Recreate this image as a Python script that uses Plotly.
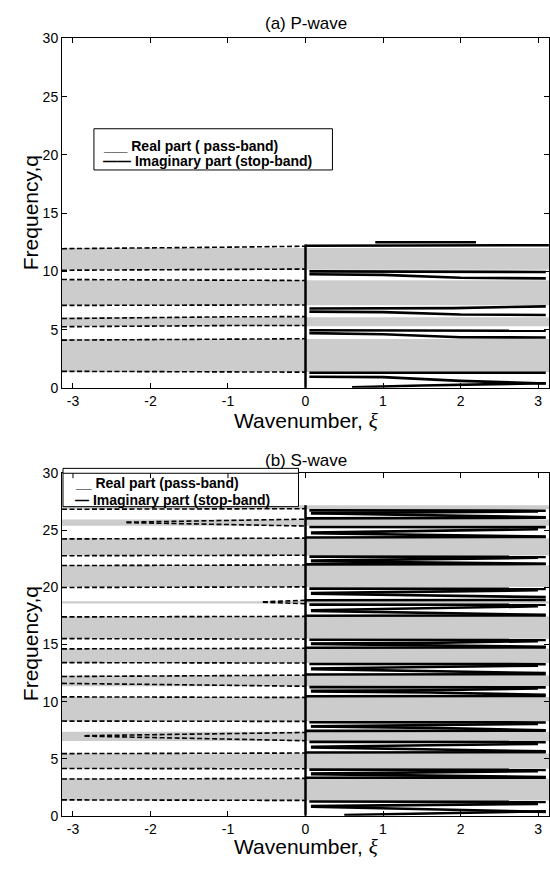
import plotly.graph_objects as go

XI_MIN, XI_MAX = -3.1416, 3.1416
x_tickvals = [-3, -2, -1, 0, 1, 2, 3]
x_ticktext = ["-3", "-2", "-1", "0", "1", "2", "3"]
y_tickvals = [0, 5, 10, 15, 20, 25, 30]

# ---------------- (a) P-wave ----------------
p_band_low = [1.37, 5.30, 7.10, 10.15]
p_band_high = [4.19, 6.07, 9.25, 12.00]
p_dash_xi = [
    [-3.1416, -2.0, -1.0, 0.0], [-3.1416, -2.0, -1.0, 0.0],
    [-3.1416, -2.0, -1.0, 0.0], [-3.1416, -2.0, -1.0, 0.0],
    [-3.1416, -2.0, -1.0, 0.0], [-3.1416, -2.0, -1.0, 0.0],
    [-3.1416, -2.0, -1.0, 0.0], [-3.1416, -2.0, -1.0, 0.0],
]
p_dash_q = [
    [1.42, 1.38, 1.36, 1.35], [4.10, 4.15, 4.20, 4.22],
    [5.25, 5.32, 5.35, 5.35], [5.95, 6.05, 6.10, 6.12],
    [7.08, 7.10, 7.12, 7.12], [9.30, 9.28, 9.25, 9.22],
    [10.10, 10.12, 10.15, 10.20], [11.95, 12.00, 12.08, 12.16],
]
p_solid_xi = [
    [0.05, 3.10], [0.05, 1.0, 2.0, 3.10], [0.6, 1.5, 3.10],
    [0.05, 1.6, 3.10], [0.05, 1.0, 2.0, 3.10],
    [0.05, 1.9, 3.10], [0.05, 1.0, 2.0, 3.10],
    [0.05, 1.6, 3.10], [0.05, 1.0, 2.0, 3.10],
    [0.0, 3.14], [0.9, 2.2],
]
p_solid_q = [
    [1.30, 1.30], [0.95, 0.92, 0.60, 0.38], [0.05, 0.20, 0.40],
    [4.95, 4.92, 4.90], [4.70, 4.60, 4.35, 4.33],
    [6.82, 6.85, 7.00], [6.55, 6.50, 6.30, 6.26],
    [10.00, 9.98, 9.95], [9.75, 9.70, 9.45, 9.40],
    [12.20, 12.25], [12.50, 12.50],
]
p_vline_top = 12.3

# ---------------- (b) S-wave ----------------
s_band_low = [1.35, 4.13, 6.56, 8.28, 11.35, 13.39, 15.50, 18.60, 20.03, 22.80, 25.40, 26.85]
s_band_high = [3.27, 5.47, 7.37, 10.40, 12.30, 14.66, 17.45, 18.80, 21.95, 24.30, 25.95, 27.20]
s_dash_xi = [
    [-3.1416, -2.0, -1.0, 0.0], [-3.1416, -2.0, -1.0, 0.0],
    [-3.1416, -2.0, -1.0, 0.0], [-3.1416, -2.0, -1.0, 0.0],
    [-2.85, -1.5, 0.0], [-2.85, -1.5, 0.0],
    [-3.1416, -2.0, -1.0, 0.0], [-3.1416, -2.0, -1.0, 0.0],
    [-3.1416, -2.0, -1.0, 0.0], [-3.1416, -2.0, -1.0, 0.0],
    [-3.1416, -2.0, -1.0, 0.0], [-3.1416, -2.0, -1.0, 0.0],
    [-3.1416, -2.0, -1.0, 0.0], [-3.1416, -2.0, -1.0, 0.0],
    [-0.55, 0.0], [-0.55, 0.0],
    [-3.1416, -2.0, -1.0, 0.0], [-3.1416, -2.0, -1.0, 0.0],
    [-3.1416, -2.0, -1.0, 0.0], [-3.1416, -2.0, -1.0, 0.0],
    [-2.31, -1.2, 0.0], [-2.31, -1.2, 0.0],
    [-3.1416, -2.0, -1.0, 0.0],
]
s_dash_q = [
    [1.40, 1.38, 1.36, 1.35], [3.22, 3.25, 3.27, 3.28],
    [4.15, 4.14, 4.13, 4.12], [5.45, 5.47, 5.48, 5.50],
    [7.02, 7.15, 7.30], [6.98, 6.80, 6.58],
    [8.30, 8.28, 8.28, 8.27], [10.42, 10.40, 10.38, 10.37],
    [11.60, 11.50, 11.40, 11.35], [12.20, 12.25, 12.30, 12.32],
    [13.42, 13.40, 13.39, 13.38], [14.62, 14.65, 14.66, 14.68],
    [15.52, 15.50, 15.50, 15.48], [17.42, 17.44, 17.45, 17.47],
    [18.74, 18.87], [18.70, 18.58],
    [20.00, 20.02, 20.03, 20.05], [21.92, 21.94, 21.95, 21.97],
    [22.78, 22.80, 22.80, 22.82], [24.25, 24.28, 24.30, 24.32],
    [25.72, 25.85, 25.98], [25.68, 25.55, 25.38],
    [26.85, 26.87, 26.88, 26.90],
]
s_solid_xi = [
    [0.05, 1.6, 3.1], [0.07, 1.6, 3.0], [0.07, 1.6, 3.1], [0.5, 1.6, 3.1],
    [0.05, 1.6, 3.1], [0.07, 1.6, 3.0], [0.07, 1.6, 3.1], [0.0, 1.6, 3.1],
    [0.05, 1.6, 3.1], [0.07, 1.6, 3.0], [0.07, 1.6, 3.1], [0.0, 1.6, 3.1],
    [0.05, 1.6, 3.1], [0.07, 1.6, 3.0], [0.07, 1.6, 3.1], [0.0, 1.6, 3.1],
    [0.05, 1.6, 3.1], [0.07, 1.6, 3.0], [0.07, 1.6, 3.1], [0.0, 1.6, 3.1],
    [0.05, 1.6, 3.1], [0.07, 1.6, 3.0], [0.07, 1.6, 3.1], [0.0, 1.6, 3.1],
    [0.05, 1.6, 3.1], [0.07, 1.6, 3.0], [0.07, 1.6, 3.1], [0.0, 1.6, 3.1],
    [0.05, 1.6, 3.1], [0.07, 1.6, 3.0], [0.07, 1.6, 3.1], [0.0, 1.6, 3.1],
    [0.05, 1.6, 3.1], [0.07, 1.6, 3.0], [0.07, 1.6, 3.1], [0.0, 1.6, 3.1],
    [0.05, 1.6, 3.1], [0.07, 1.6, 3.0], [0.07, 1.6, 3.1], [0.0, 1.6, 3.1],
    [0.05, 1.6, 3.1], [0.07, 1.6, 3.0], [0.07, 1.6, 3.1], [0.0, 1.6, 3.1],
    [0.05, 1.6, 3.1], [0.07, 1.6, 3.0], [0.07, 1.6, 3.1], [0.0, 1.6, 3.1],
]
s_solid_q = [
    [1.25, 1.25, 1.22], [0.85, 0.95, 1.05], [0.80, 0.60, 0.35], [0.08, 0.20, 0.40],
    [4.05, 4.05, 4.03], [3.70, 3.80, 3.92], [3.65, 3.55, 3.40], [3.34, 3.35, 3.35],
    [6.48, 6.48, 6.46], [6.05, 6.15, 6.30], [6.00, 5.85, 5.65], [5.55, 5.56, 5.57],
    [8.20, 8.20, 8.18], [7.85, 7.95, 8.05], [7.82, 7.70, 7.50], [7.44, 7.45, 7.45],
    [11.27, 11.27, 11.25], [10.95, 11.00, 11.15], [10.90, 10.80, 10.60], [10.47, 10.48, 10.50],
    [13.30, 13.30, 13.28], [12.90, 13.00, 13.15], [12.85, 12.70, 12.50], [12.38, 12.40, 12.40],
    [15.42, 15.42, 15.40], [15.08, 15.15, 15.30], [15.05, 14.95, 14.80], [14.72, 14.73, 14.75],
    [18.50, 18.50, 18.48], [18.00, 18.15, 18.35], [17.95, 17.80, 17.60], [17.52, 17.53, 17.55],
    [19.90, 19.90, 19.88], [19.50, 19.60, 19.75], [19.45, 19.30, 19.15], [18.88, 18.90, 18.90],
    [22.70, 22.70, 22.68], [22.35, 22.45, 22.60], [22.30, 22.20, 22.08], [22.02, 22.03, 22.05],
    [25.30, 25.30, 25.28], [24.80, 24.95, 25.10], [24.75, 24.60, 24.45], [24.38, 24.40, 24.42],
    [26.75, 26.75, 26.72], [26.50, 26.60, 26.65], [26.50, 26.35, 26.15], [26.05, 26.07, 26.10],
]
s_vline_top = 27.2

GRAY = "#cccccc"
W, H = 550, 869
ML = 62
PW = W - ML


def py(px):
    return 1 - px / H


def px_x(px):
    return (px - ML) / PW


fig = go.Figure()


def add_panel(xa, ya, lows, highs, dxi, dq, sxi, sq, vtop):
    for lo, hi in zip(lows, highs):
        fig.add_trace(go.Scatter(
            x=[XI_MIN, XI_MAX, XI_MAX, XI_MIN, XI_MIN], y=[lo, lo, hi, hi, lo],
            mode="lines", fill="toself", fillcolor=GRAY, line=dict(width=0),
            hoverinfo="skip", xaxis=xa, yaxis=ya))
    for xs, qs in zip(dxi, dq):
        fig.add_trace(go.Scatter(
            x=xs, y=qs, mode="lines",
            line=dict(color="black", width=1.6, dash="5px,2.5px"),
            hoverinfo="skip", xaxis=xa, yaxis=ya))
    for xs, qs in zip(sxi, sq):
        fig.add_trace(go.Scatter(
            x=xs, y=qs, mode="lines", line=dict(color="black", width=2.6),
            hoverinfo="skip", xaxis=xa, yaxis=ya))
    fig.add_trace(go.Scatter(
        x=[0, 0], y=[0, vtop], mode="lines", line=dict(color="black", width=2.5),
        hoverinfo="skip", xaxis=xa, yaxis=ya))


add_panel("x", "y", p_band_low, p_band_high, p_dash_xi, p_dash_q, p_solid_xi, p_solid_q, p_vline_top)
add_panel("x2", "y2", s_band_low, s_band_high, s_dash_xi, s_dash_q, s_solid_xi, s_solid_q, s_vline_top)

axis_common = dict(showgrid=False, zeroline=False, showline=True, linecolor="black",
                   linewidth=1, mirror="ticks", ticks="inside", ticklen=5,
                   tickcolor="black", tickwidth=1, tickfont=dict(size=14, color="black"))
xcommon = dict(range=[XI_MIN, XI_MAX], tickmode="array", tickvals=x_tickvals,
               ticktext=x_ticktext, **axis_common)
ycommon = dict(range=[0, 30], tickmode="array", tickvals=y_tickvals, **axis_common)

top_dom = [py(387), py(31)]
bot_dom = [py(823), py(474)]

fig.update_layout(
    width=W, height=H, margin=dict(l=ML, r=0, t=0, b=0),
    plot_bgcolor="white", paper_bgcolor="white", showlegend=False,
    font=dict(family="Liberation Sans, Arial, sans-serif", color="black"),
    xaxis=dict(domain=[0, 1], anchor="y", **xcommon),
    yaxis=dict(domain=top_dom, anchor="x", **ycommon),
    xaxis2=dict(domain=[0, 1], anchor="y2", **xcommon),
    yaxis2=dict(domain=bot_dom, anchor="x2", **ycommon),
)

# legend boxes (the lower one pokes above the axes, whose top line and ticks show through)
fig.add_shape(type="rect", xref="paper", yref="paper",
              x0=px_x(94), x1=px_x(333), y0=py(165), y1=py(123),
              fillcolor="white", line=dict(color="black", width=1), layer="above")
fig.add_shape(type="rect", xref="paper", yref="paper",
              x0=px_x(63), x1=px_x(299), y0=py(508), y1=py(469),
              fillcolor="white", line=dict(color="black", width=1), layer="above")
fig.add_shape(type="line", xref="paper", yref="paper",
              x0=px_x(63), x1=px_x(299), y0=py(474), y1=py(474),
              line=dict(color="black", width=1), layer="above")
for tv in x_tickvals[:3]:
    fig.add_shape(type="line", xref="x2", yref="paper", x0=tv, x1=tv,
                  y0=py(474), y1=py(479), line=dict(color="black", width=1), layer="above")

ann = []
leg_font = dict(size=14, family="Liberation Sans, Arial, sans-serif", color="black")
ann += [
    dict(text="<b>___ Real part ( pass-band)</b>", x=px_x(101), y=py(141), xanchor="left", yanchor="middle", font=leg_font),
    dict(text="<b>—— Imaginary part (stop-band)</b>", x=px_x(101), y=py(156), xanchor="left", yanchor="middle", font=leg_font),
    dict(text="<b>__ Real part (pass-band)</b>", x=px_x(73), y=py(484), xanchor="left", yanchor="middle", font=leg_font),
    dict(text="<b>— Imaginary part (stop-band)</b>", x=px_x(73), y=py(501), xanchor="left", yanchor="middle", font=leg_font),
]
title_font = dict(size=17, color="black")
ann += [
    dict(text="(a) P-wave", x=px_x(306), y=py(16), xanchor="center", yanchor="middle", font=title_font),
    dict(text="(b) S-wave", x=px_x(306), y=py(461), xanchor="center", yanchor="middle", font=title_font),
]
xt = "Wavenumber, <span style=\"font-family:'Liberation Serif'\"><i>ξ</i></span>"
ax_font = dict(size=21, color="black")
ann += [
    dict(text=xt, x=px_x(306), y=py(421), xanchor="center", yanchor="middle", font=ax_font),
    dict(text=xt, x=px_x(306), y=py(855), xanchor="center", yanchor="middle", font=ax_font),
    dict(text="Frequency,q", x=px_x(30), y=py(209), xanchor="center", yanchor="middle", textangle=-90, font=ax_font),
    dict(text="Frequency,q", x=px_x(30), y=py(648), xanchor="center", yanchor="middle", textangle=-90, font=ax_font),
]
for a in ann:
    a.update(xref="paper", yref="paper", showarrow=False)
fig.update_layout(annotations=ann)

fig.write_html("out.html")
